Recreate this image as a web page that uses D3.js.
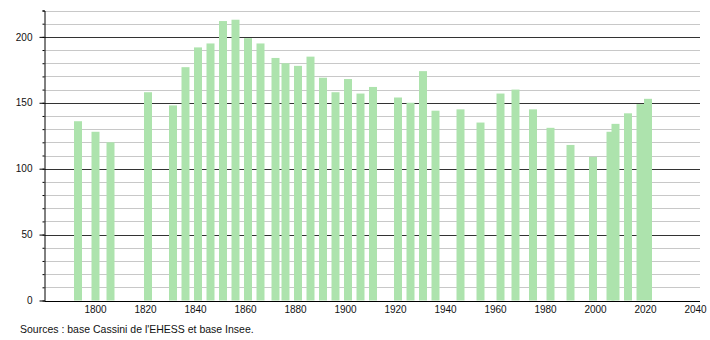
<!DOCTYPE html>
<html>
<head>
<meta charset="utf-8">
<script src="https://cdn.jsdelivr.net/npm/d3@7"></script>
<style>
  body { margin: 0; background: #fff; }
  svg text { font-family: "Liberation Sans", Arial, sans-serif; fill: #111; }
</style>
</head>
<body>
<div id="chart"></div>
<script>
// recensements
const annees = [1793, 1800, 1806, 1821, 1831, 1836, 1841, 1846, 1851, 1856,
  1861, 1866, 1872, 1876, 1881, 1886, 1891, 1896, 1901, 1906,
  1911, 1921, 1926, 1931, 1936, 1946, 1954, 1962, 1968, 1975,
  1982, 1990, 1999, 2006, 2008, 2013, 2018, 2021];
const population = [136, 128, 120, 158, 148, 177, 192, 195, 212, 213,
  199, 195, 184, 180, 178, 185, 169, 158, 168, 157,
  162, 154, 150, 174, 144, 145, 135, 157, 160, 145,
  131, 118, 109, 128, 134, 142, 149, 153];
const ticksX = [1800, 1820, 1840, 1860, 1880, 1900, 1920, 1940, 1960, 1980, 2000, 2020, 2040];
const ticksY = [0, 50, 100, 150, 200];
const source = "Sources : base Cassini de l'EHESS et base Insee.";

const width = 710, height = 340;
const svg = d3.select("#chart").append("svg")
  .attr("width", width)
  .attr("height", height);

const x = d3.scaleLinear().domain([1780, 2042]).range([45, 700]);
const y = d3.scaleLinear().domain([0, 220]).range([300.5, 10.5]);
const left = 44.5, right = 700;

// lignes de grille
const grille = d3.range(10, 221, 10);
svg.append("g").selectAll("line")
  .data(grille)
  .enter().append("line")
  .attr("x1", left).attr("x2", right)
  .attr("y1", d => Math.round(y(d)) + 0.5)
  .attr("y2", d => Math.round(y(d)) + 0.5)
  .attr("stroke", d => d % 50 === 0 ? "#333" : "#c8c8c8")
  .attr("stroke-width", 1);

// barres
svg.append("g").selectAll("rect")
  .data(annees)
  .enter().append("rect")
  .attr("x", (d, i) => x(d) + 0.5 - 4)
  .attr("width", 8)
  .attr("y", (d, i) => y(population[i]))
  .attr("height", (d, i) => y(0) - y(population[i]))
  .attr("fill", "#ade3ad");

// axe vertical : petites graduations
svg.append("g")
  .attr("transform", `translate(${left},0)`)
  .call(d3.axisLeft(y).tickValues(grille).tickSize(2).tickFormat(""))
  .call(g => g.selectAll("line").attr("stroke", "#000"))
  .call(g => g.select(".domain").attr("stroke", "#000"));

svg.append("g")
  .attr("transform", `translate(${left},0)`)
  .call(d3.axisLeft(y).tickValues(ticksY).tickSize(5).tickPadding(7).tickSizeOuter(0))
  .call(g => g.select(".domain").remove())
  .call(g => g.selectAll("line").attr("stroke", "#000"))
  .call(g => g.selectAll("text").style("font-size", "10px"));

// axe horizontal
svg.append("g")
  .attr("transform", `translate(0,${Math.round(y(0)) + 0.5})`)
  .call(d3.axisBottom(x).tickValues(ticksX).tickSize(0).tickPadding(4).tickFormat(d3.format("d")))
  .call(g => g.select(".domain").attr("d", `M${left},0H${right}`).attr("stroke", "#000"))
  .call(g => g.selectAll("text").style("font-size", "10px"));

svg.append("text")
  .attr("x", 20)
  .attr("y", 333)
  .style("font-size", "10.5px")
  .text(source);
</script>
</body>
</html>
